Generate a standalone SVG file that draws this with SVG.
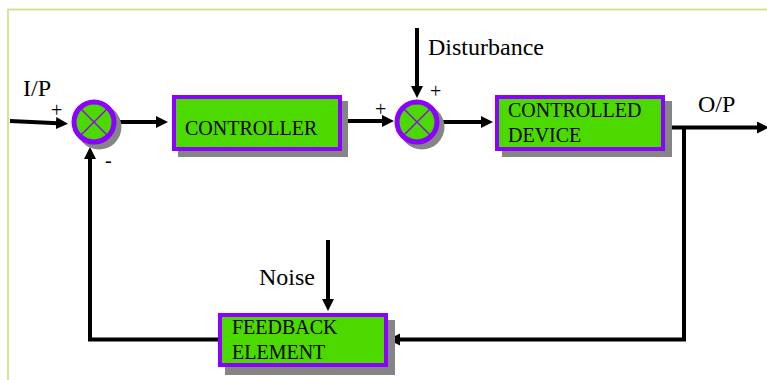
<svg xmlns="http://www.w3.org/2000/svg" width="767" height="380" viewBox="0 0 767 380">
<style>
.frame{fill:none;stroke:#c6e07e;stroke-width:1.6}
.shadow{fill:#858585}
.box{fill:#4cd900;stroke:#8b00ff;stroke-width:4}
.sum{fill:#4cd900;stroke:#8b00ff;stroke-width:5}
.cross{stroke:#8b00ff;stroke-width:1.2}
.wire{fill:none;stroke:#000;stroke-width:4}
.lbl{font-family:"Liberation Serif","Times New Roman",serif;font-size:24px;fill:#000}
.blk{font-family:"Liberation Serif","Times New Roman",serif;font-size:20px;fill:#000}
.sgn{font-family:"Liberation Serif","Times New Roman",serif;font-size:20px;fill:#000}
</style>
<defs>
<marker id="ah" markerUnits="userSpaceOnUse" markerWidth="13" markerHeight="13" refX="2" refY="6" orient="auto">
<path d="M0,0 L12,6 L0,12 z" fill="#000"/>
</marker>
</defs>
<rect width="767" height="380" fill="#fff"/>
<rect class="frame" x="8" y="9.5" width="800" height="400"/>

<g id="connectors">
<line class="wire" x1="10" y1="121" x2="58" y2="123.2" marker-end="url(#ah)"/>
<line class="wire" x1="116" y1="122" x2="158" y2="122" marker-end="url(#ah)"/>
<line class="wire" x1="342" y1="121" x2="384" y2="121" marker-end="url(#ah)"/>
<line class="wire" x1="417" y1="28" x2="417" y2="88" marker-end="url(#ah)"/>
<line class="wire" x1="440" y1="122" x2="483" y2="122" marker-end="url(#ah)"/>
<line class="wire" x1="663" y1="127.5" x2="759" y2="127.5" marker-end="url(#ah)"/>
<polyline class="wire" points="684,127.5 684,339.5 398,339.5" marker-end="url(#ah)"/>
<line class="wire" x1="328" y1="240" x2="328" y2="301" marker-end="url(#ah)"/>
<polyline class="wire" points="220,339.5 90,339.5 90,157" marker-end="url(#ah)"/>
</g>

<g id="sum1">
<circle class="shadow" cx="99" cy="127" r="22.5"/>
<circle class="sum" cx="94" cy="122" r="20"/>
<line class="cross" x1="80" y1="108" x2="108" y2="136"/>
<line class="cross" x1="108" y1="108" x2="80" y2="136"/>
<text class="sgn" x="51" y="117">+</text>
<text class="sgn" x="105" y="167">-</text>
</g>

<g id="sum2">
<circle class="shadow" cx="422" cy="127" r="22.5"/>
<circle class="sum" cx="417" cy="122" r="20"/>
<line class="cross" x1="403" y1="108" x2="431" y2="136"/>
<line class="cross" x1="431" y1="108" x2="403" y2="136"/>
<text class="sgn" x="375" y="116">+</text>
<text class="sgn" x="430" y="98">+</text>
</g>

<g id="controller">
<rect class="shadow" x="178" y="101" width="170" height="56"/>
<rect class="box" x="174" y="97" width="166" height="52"/>
<text class="blk" x="185" y="135">CONTROLLER</text>
</g>

<g id="controlled-device">
<rect class="shadow" x="502" y="101" width="170" height="56"/>
<rect class="box" x="497" y="97" width="166" height="52"/>
<text class="blk" x="508" y="117">CONTROLLED</text>
<text class="blk" x="508" y="142">DEVICE</text>
</g>

<g id="feedback-element">
<rect class="shadow" x="225" y="320" width="170" height="55"/>
<rect class="box" x="220" y="315" width="166" height="50"/>
<text class="blk" x="232" y="334">FEEDBACK</text>
<text class="blk" x="232" y="359">ELEMENT</text>
</g>

<g id="labels">
<text class="lbl" x="23" y="96">I/P</text>
<text class="lbl" x="428" y="55">Disturbance</text>
<text class="lbl" x="698" y="112">O/P</text>
<text class="lbl" x="259" y="285">Noise</text>
</g>
</svg>
